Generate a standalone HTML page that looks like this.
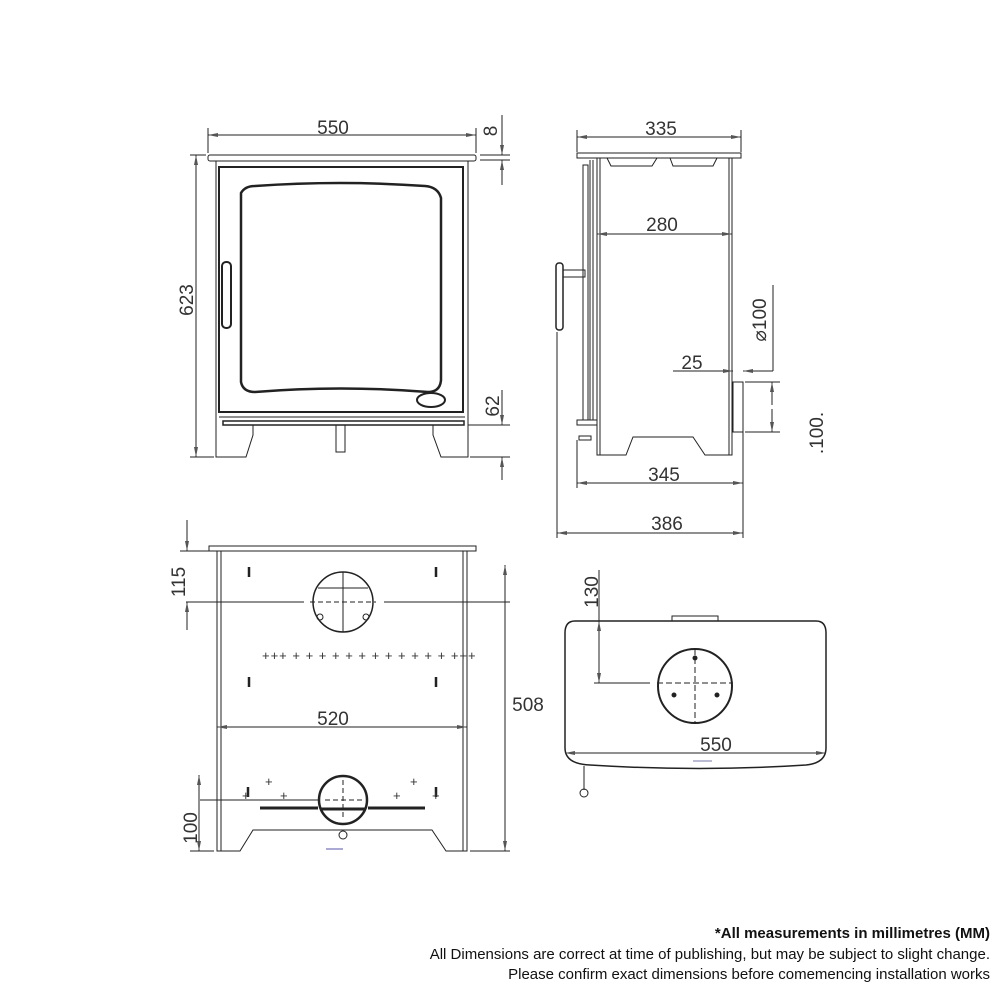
<!DOCTYPE html>
<html><head><meta charset="utf-8"><style>
html,body{margin:0;padding:0;background:#fff;width:1000px;height:1000px;overflow:hidden}
svg{position:absolute;left:0;top:0}
.t{font-family:"Liberation Sans",sans-serif;font-size:19px;fill:#333}
.f{position:absolute;right:10px;font-family:"Liberation Sans",sans-serif;font-size:15px;color:#111;text-align:right}
</style></head><body>
<svg width="1000" height="1000" viewBox="0 0 1000 1000" fill="none" stroke="#222" stroke-width="1.5">
<defs><marker id="a" viewBox="0 0 10 6" refX="10" refY="3" markerWidth="10" markerHeight="6" orient="auto-start-reverse"><path d="M0,1 L10,3 L0,5" fill="#555" stroke="none"/></marker></defs>
<g stroke-width="1">
<!-- FRONT VIEW -->
<rect x="208" y="155" width="268" height="6" rx="2"/>
<path d="M216,161 V457 H246 L253,435 V425 H433 V435 L441,457 H468 V161"/>
<rect x="219" y="167" width="244" height="245" stroke-width="2"/>
<path d="M241,193 Q245,186 255,186 Q340,180 425,186 Q438,187 441,198 V380 Q440,392 428,392 Q340,385 255,392 Q243,392 241,382 Z" stroke-width="2.5"/>
<rect x="222" y="262" width="9" height="66" rx="4" stroke-width="2"/>
<ellipse cx="431" cy="400" rx="14" ry="7" stroke-width="2"/>
<line x1="219" y1="417" x2="465" y2="417"/>
<rect x="223" y="421" width="241" height="4" stroke-width="1.5"/>
<rect x="336" y="425" width="9" height="27"/>
<!-- front dims -->
<line x1="208" y1="135" x2="476" y2="135" marker-start="url(#a)" marker-end="url(#a)"/>
<line x1="208" y1="128" x2="208" y2="153"/><line x1="476" y1="128" x2="476" y2="153"/>
<line x1="196" y1="155" x2="196" y2="457" marker-start="url(#a)" marker-end="url(#a)"/>
<line x1="190" y1="155" x2="206" y2="155"/><line x1="190" y1="457" x2="214" y2="457"/>
<line x1="480" y1="155" x2="510" y2="155"/><line x1="480" y1="160" x2="510" y2="160"/>
<line x1="502" y1="115" x2="502" y2="155" marker-end="url(#a)"/><line x1="502" y1="185" x2="502" y2="160" marker-end="url(#a)"/>
<line x1="468" y1="425" x2="510" y2="425"/><line x1="470" y1="457" x2="510" y2="457"/>
<line x1="502" y1="390" x2="502" y2="425" marker-end="url(#a)"/><line x1="502" y1="480" x2="502" y2="457" marker-end="url(#a)"/>

<!-- SIDE VIEW -->
<rect x="577" y="153" width="164" height="5"/>
<path d="M597,158 V455 H626 L633,437 H693 L705,455 H732 V158"/>
<line x1="600" y1="158" x2="600" y2="455"/><line x1="729" y1="158" x2="729" y2="455"/>
<path d="M607,158 L611,166 H652 L657,158 M670,158 L673,166 H713 L717,158"/>
<rect x="583" y="165" width="5" height="255"/><line x1="590" y1="160" x2="590" y2="420"/><line x1="593" y1="160" x2="593" y2="420"/>
<rect x="577" y="420" width="20" height="5"/><rect x="579" y="436" width="12" height="4"/>
<rect x="556" y="263" width="7" height="67" rx="3" stroke-width="1.5"/>
<rect x="563" y="270" width="22" height="7"/>
<rect x="733" y="382" width="10" height="50"/>
<line x1="577" y1="137" x2="741" y2="137" marker-start="url(#a)" marker-end="url(#a)"/>
<line x1="577" y1="130" x2="577" y2="152"/><line x1="741" y1="130" x2="741" y2="152"/>
<line x1="597" y1="234" x2="732" y2="234" marker-start="url(#a)" marker-end="url(#a)"/>
<line x1="577" y1="483" x2="743" y2="483" marker-start="url(#a)" marker-end="url(#a)"/>
<line x1="577" y1="440" x2="577" y2="488"/><line x1="743" y1="432" x2="743" y2="538"/>
<line x1="557" y1="533" x2="743" y2="533" marker-start="url(#a)" marker-end="url(#a)"/>
<line x1="557" y1="332" x2="557" y2="538"/>
<line x1="673" y1="371" x2="733" y2="371" marker-end="url(#a)"/>
<line x1="773" y1="371" x2="743" y2="371" marker-end="url(#a)"/>
<line x1="773" y1="285" x2="773" y2="371"/>
<line x1="745" y1="382" x2="780" y2="382"/><line x1="745" y1="432" x2="780" y2="432"/>
<line x1="772" y1="405" x2="772" y2="382" marker-end="url(#a)"/><line x1="772" y1="409" x2="772" y2="432" marker-end="url(#a)"/>

<!-- BACK VIEW -->
<rect x="209" y="546" width="267" height="5"/>
<path d="M217,551 V851 H240 L253,830 H432 L446,851 H467 V551"/>
<line x1="221" y1="551" x2="221" y2="851"/><line x1="463" y1="551" x2="463" y2="851"/>
<circle cx="343" cy="602" r="30" stroke-width="1.5"/>
<line x1="343" y1="572" x2="343" y2="632"/><line x1="318" y1="588" x2="368" y2="588"/>
<line x1="186" y1="602" x2="304" y2="602"/><line x1="384" y1="602" x2="510" y2="602"/>
<line x1="310" y1="602" x2="376" y2="602" stroke-dasharray="5,3"/>
<circle cx="320" cy="617" r="3"/><circle cx="366" cy="617" r="3"/>
<g stroke-width="2.5"><line x1="249" y1="567" x2="249" y2="577"/><line x1="436" y1="567" x2="436" y2="577"/><line x1="249" y1="677" x2="249" y2="687"/><line x1="436" y1="677" x2="436" y2="687"/><line x1="248" y1="787" x2="248" y2="797"/><line x1="436" y1="787" x2="436" y2="797"/></g>
<text x="262" y="660" class="t" style="font-size:13px;letter-spacing:1px" stroke="none">+++ + + + + + + + + + + + + +++</text>
<line x1="217" y1="727" x2="467" y2="727" marker-start="url(#a)" marker-end="url(#a)"/>
<text x="265" y="786" class="t" style="font-size:13px" stroke="none">+</text>
<text x="410" y="786" class="t" style="font-size:13px" stroke="none">+</text>
<text x="242" y="800" class="t" style="font-size:13px" stroke="none">+</text>
<text x="280" y="800" class="t" style="font-size:13px" stroke="none">+</text>
<text x="393" y="800" class="t" style="font-size:13px" stroke="none">+</text>
<text x="432" y="800" class="t" style="font-size:13px" stroke="none">+</text>
<circle cx="343" cy="800" r="24" stroke-width="2.5"/>
<line x1="260" y1="808" x2="318" y2="808" stroke-width="3"/><line x1="368" y1="808" x2="425" y2="808" stroke-width="3"/>
<line x1="321" y1="809" x2="365" y2="809" stroke-width="3"/>
<line x1="200" y1="800" x2="319" y2="800"/><line x1="325" y1="800" x2="362" y2="800" stroke-dasharray="5,3"/>
<line x1="343" y1="780" x2="343" y2="820" stroke-dasharray="5,3"/>
<circle cx="343" cy="835" r="4"/>
<line x1="326" y1="849" x2="343" y2="849" stroke="#55a"/>
<line x1="187" y1="520" x2="187" y2="551" marker-end="url(#a)"/><line x1="187" y1="630" x2="187" y2="602" marker-end="url(#a)"/>
<line x1="180" y1="551" x2="209" y2="551"/>
<line x1="505" y1="565" x2="505" y2="851" marker-start="url(#a)" marker-end="url(#a)"/>
<line x1="470" y1="851" x2="510" y2="851"/>
<line x1="199" y1="775" x2="199" y2="851" marker-start="url(#a)" marker-end="url(#a)"/>
<line x1="190" y1="851" x2="214" y2="851"/>

<!-- TOP VIEW -->
<path d="M575,621 H816 Q826,621 826,633 V748 Q826,763 806,765 Q700,772 590,765 Q565,764 565,748 V633 Q565,621 575,621 Z" stroke-width="1.5"/>
<rect x="672" y="616" width="46" height="5"/>
<circle cx="695" cy="686" r="37" stroke-width="2"/>
<line x1="695" y1="649" x2="695" y2="723" stroke-dasharray="6,3"/>
<line x1="594" y1="683" x2="650" y2="683"/><line x1="657" y1="683" x2="733" y2="683" stroke-dasharray="6,3"/>
<circle cx="695" cy="658" r="2" fill="#222"/><circle cx="674" cy="695" r="2" fill="#222"/><circle cx="717" cy="695" r="2" fill="#222"/>
<line x1="599" y1="570" x2="599" y2="683"/>
<line x1="599" y1="640" x2="599" y2="621" marker-end="url(#a)"/><line x1="599" y1="660" x2="599" y2="683" marker-end="url(#a)"/>
<line x1="565" y1="753" x2="826" y2="753" marker-start="url(#a)" marker-end="url(#a)"/>
<line x1="693" y1="761" x2="712" y2="761" stroke="#77a"/>
<line x1="584" y1="766" x2="584" y2="790"/><circle cx="584" cy="793" r="4"/>
</g>
<g stroke="none">
<text class="t" x="333" y="134" text-anchor="middle">550</text>
<text class="t" transform="translate(497,131) rotate(-90)" text-anchor="middle">8</text>
<text class="t" transform="translate(193,300) rotate(-90)" text-anchor="middle">623</text>
<text class="t" transform="translate(499,406) rotate(-90)" text-anchor="middle">62</text>
<text class="t" x="661" y="135" text-anchor="middle">335</text>
<text class="t" x="662" y="231" text-anchor="middle">280</text>
<text class="t" x="692" y="369" text-anchor="middle">25</text>
<text class="t" transform="translate(766,320) rotate(-90)" text-anchor="middle">⌀100</text>
<text class="t" transform="translate(823,433) rotate(-90)" text-anchor="middle">.100.</text>
<text class="t" x="664" y="481" text-anchor="middle">345</text>
<text class="t" x="667" y="530" text-anchor="middle">386</text>
<text class="t" transform="translate(185,582) rotate(-90)" text-anchor="middle">115</text>
<text class="t" x="333" y="725" text-anchor="middle">520</text>
<text class="t" x="528" y="711" text-anchor="middle">508</text>
<text class="t" transform="translate(197,828) rotate(-90)" text-anchor="middle">100</text>
<text class="t" transform="translate(598,592) rotate(-90)" text-anchor="middle">130</text>
<text class="t" x="716" y="751" text-anchor="middle">550</text>
</g>
</svg>
<div class="f" style="top:925px;font-weight:bold">*All measurements in millimetres (MM)</div>
<div class="f" style="top:946px">All Dimensions are correct at time of publishing, but may be subject to slight change.</div>
<div class="f" style="top:966px">Please confirm exact dimensions before comemencing installation works</div>
</body></html>
